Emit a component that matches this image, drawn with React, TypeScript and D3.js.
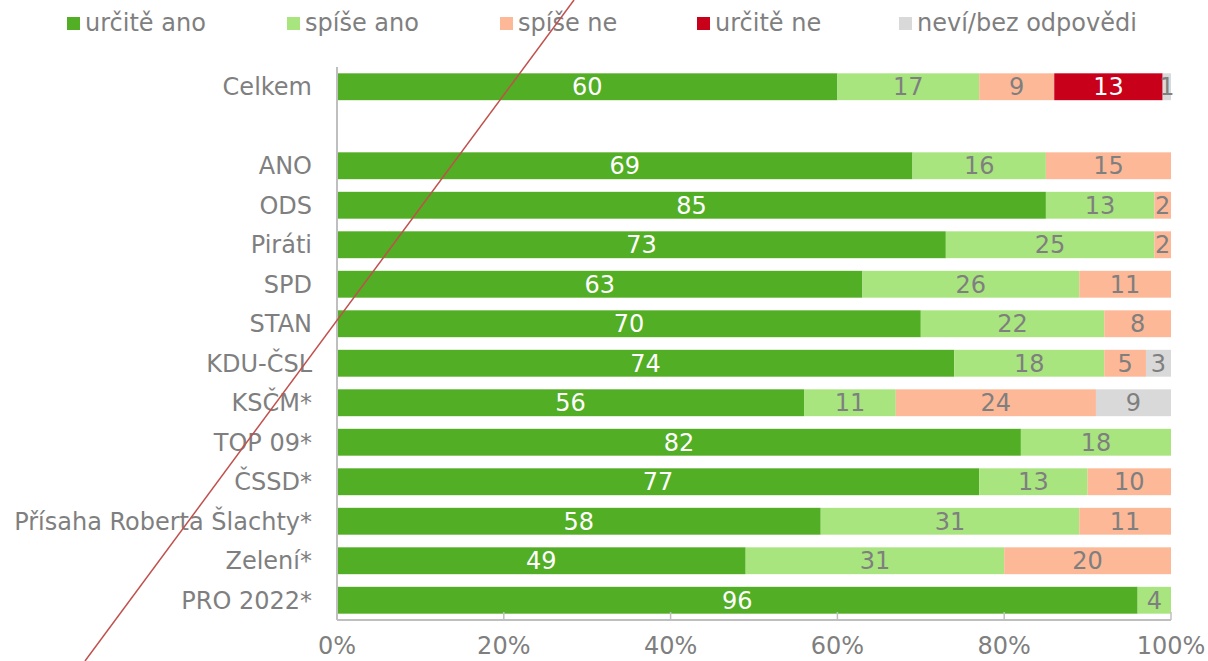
import * as d3 from 'd3';

const categories = [
  'Celkem', '', 'ANO', 'ODS', 'Piráti', 'SPD', 'STAN', 'KDU-ČSL', 'KSČM*',
  'TOP 09*', 'ČSSD*', 'Přísaha Roberta Šlachty*', 'Zelení*', 'PRO 2022*'
];
const seriesNames = ['určitě ano', 'spíše ano', 'spíše ne', 'určitě ne', 'neví/bez odpovědi'];
const seriesColors = ['#52ae24', '#a9e57f', '#fdb897', '#c8001a', '#d9d9d9'];
const labelColors = ['#ffffff', '#7f7f7f', '#7f7f7f', '#ffffff', '#7f7f7f'];

const urciteAno = [60, null, 69, 85, 73, 63, 70, 74, 56, 82, 77, 58, 49, 96];
const spiseAno = [17, null, 16, 13, 25, 26, 22, 18, 11, 18, 13, 31, 31, 4];
const spiseNe = [9, null, 15, 2, 2, 11, 8, 5, 24, 0, 10, 11, 20, 0];
const urciteNe = [13, null, 0, 0, 0, 0, 0, 0, 0, 0, 0, 0, 0, 0];
const nevi = [1, null, 0, 0, 0, 0, 0, 3, 9, 0, 0, 0, 0, 0];

const xTicks = [0, 20, 40, 60, 80, 100];
const legendX = [67, 287, 500, 697, 899];

const W = 1208;
const H = 661;
const font = '"DejaVu Sans", Verdana, sans-serif';
const gray = '#7f7f7f';
const fs = 24;

export default function App() {
  const x = d3.scaleLinear([0, 100], [337, 1171]);
  const y = d3.scaleBand(categories.map((c, i) => `${i}`), [67, 620]).paddingInner(0.32).paddingOuter(0.16);

  const series = [urciteAno, spiseAno, spiseNe, urciteNe, nevi];
  const rows = categories.map((c, i) => series.map((s) => s[i] ?? 0));
  const stack = d3.stack<number[]>().keys(seriesNames.map((_, k) => `${k}`)).value((d, k) => d[+k])(rows);

  const lineStart = { x: 85, y: 661 };
  const lineEnd = { x: 574, y: 0 };

  return (
    <svg width={W} height={H} style={{ position: 'absolute', left: 0, top: 0 }} fontFamily={font}>
      <g>
        {seriesNames.map((name, k) => (
          <g key={name}>
            <rect x={legendX[k]} y={17} width={13} height={13} fill={seriesColors[k]} />
            <text x={legendX[k] + 18} y={31} fontSize={fs} fill={gray}>{name}</text>
          </g>
        ))}
      </g>
      <g>
        {categories.map((c, i) => (
          <text key={i} x={312} y={(y(`${i}`) ?? 0) + y.bandwidth() / 2} dy="0.36em" textAnchor="end" fontSize={fs} fill={gray}>{c}</text>
        ))}
      </g>
      {stack.map((layer, k) => (
        <g key={k}>
          {layer.map((d, i) => {
            const v = d[1] - d[0];
            if (!categories[i] || v <= 0) return null;
            const yy = y(`${i}`) ?? 0;
            return (
              <g key={i}>
                <rect x={x(d[0])} y={yy} width={x(d[1]) - x(d[0])} height={y.bandwidth()} fill={seriesColors[k]} />
                <text x={(x(d[0]) + x(d[1])) / 2} y={yy + y.bandwidth() / 2} dy="0.36em" textAnchor="middle" fontSize={fs} fill={labelColors[k]}>{v}</text>
              </g>
            );
          })}
        </g>
      ))}
      <line x1={x(0)} x2={x(0)} y1={67} y2={620} stroke="#bfbfbf" strokeWidth={2} />
      <line x1={x(0)} x2={x(100)} y1={620} y2={620} stroke="#bfbfbf" strokeWidth={2} />
      {xTicks.map((t) => (
        <g key={t}>
          <line x1={x(t)} x2={x(t)} y1={612} y2={620} stroke="#bfbfbf" strokeWidth={1.5} />
          <text x={x(t)} y={654} textAnchor="middle" fontSize={fs} fill={gray}>{t}%</text>
        </g>
      ))}
      <line x1={lineStart.x} y1={lineStart.y} x2={lineEnd.x} y2={lineEnd.y} stroke="#c0504d" strokeWidth={1.5} />
    </svg>
  );
}
